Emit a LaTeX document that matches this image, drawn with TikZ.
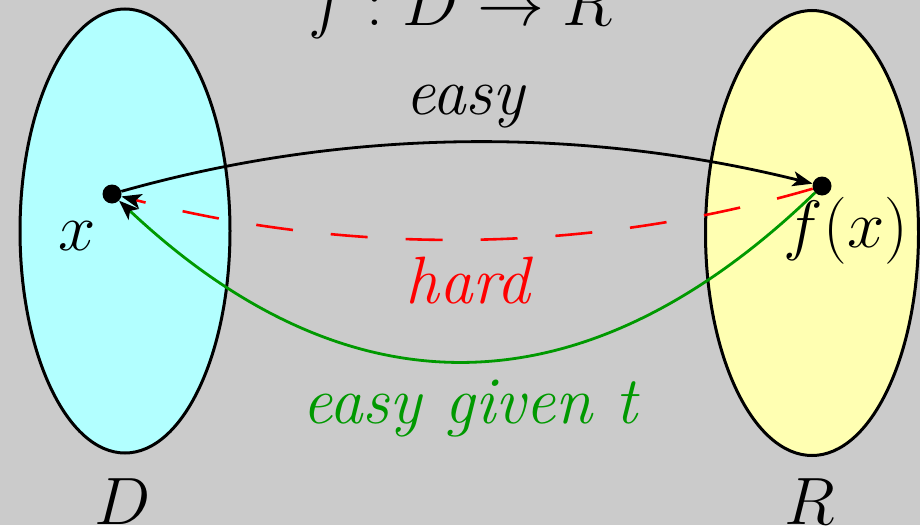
\RequirePackage{fix-cm}
\documentclass[tikz,border=0pt]{standalone}
\usepackage{tikz}
\usetikzlibrary{
  arrows.meta,
  positioning,
  shapes.geometric
}
\definecolor{slidegray}{RGB}{203,203,203}
\definecolor{domcyan}{RGB}{178,255,255}
\definecolor{ranyellow}{RGB}{255,255,178}
\definecolor{hardred}{RGB}{255,0,0}
\definecolor{trapgreen}{RGB}{0,153,0}
\tikzset{
  setbox/.style={ellipse,draw=black,line width=3pt,inner sep=0pt,
    minimum width=210pt,minimum height=444pt},
  elem/.style={circle,fill=black,inner sep=0pt,minimum size=19pt},
  big/.style={font=\fontsize{67}{77}\selectfont\itshape,
    inner sep=0pt,anchor=base},
  easyflow/.style={-{Stealth[length=20pt,width=15pt,inset=5pt,color=black]},
    line width=2.8pt,draw=black},
  hardflow/.style={-{Stealth[length=20pt,width=15pt,inset=5pt,color=black]},
    line width=2.6pt,draw=hardred,dash pattern=on 37pt off 38pt},
  trapflow/.style={-{Stealth[length=20pt,width=15pt,inset=5pt,color=black]},
    line width=2.8pt,draw=trapgreen}
}

\begin{document}
\begin{tikzpicture}[x=1pt,y=-1pt]
  \fill[slidegray] (0,0) rectangle (920,525);
  \useasboundingbox (0,0) rectangle (920,525);
  \node[setbox,fill=domcyan] (dom) at (125,231) {};
  \node[setbox,fill=ranyellow,minimum width=213pt,minimum height=445pt] (ran) at (812,233) {};
  \node[elem] (xdot) at (112,194) {};
  \node[elem] (fxdot) at (822,186) {};
  \draw[easyflow] (xdot) .. controls +(237,-67) and +(-237,-59) .. (fxdot);
  \draw[hardflow] (fxdot) .. controls +(-237,69) and +(237,61) .. (xdot);
  \draw[trapflow] (fxdot) .. controls +(-237,229) and +(237,223) .. (xdot);
  \node[big] (map) at (461,25) {$f : D \rightarrow R$};
  \node[big] (easy) at (465,114) {easy};
  \node[big,text=hardred] (hard) at (468,303) {hard};
  \node[big,text=trapgreen] (given) at (470,423) {easy given t};
  \node[big] (xlab) at (77,250) {$x$};
  \node[big] (fxlab) at (846,247) {$f(x)$};
  \node[big] (dlab) at (123,524) {$D$};
  \node[big] (rlab) at (810,524) {$R$};
\end{tikzpicture}
\end{document}
